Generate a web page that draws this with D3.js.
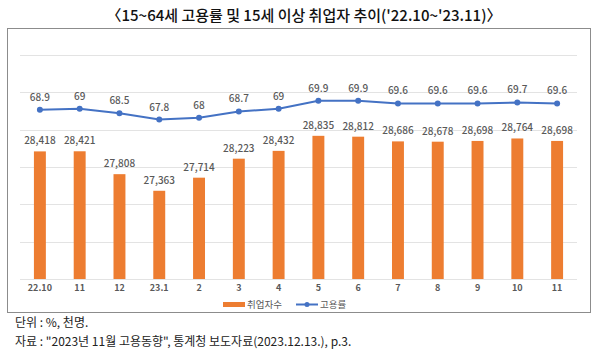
<!DOCTYPE html>
<html><head><meta charset="utf-8">
<script src="https://cdn.jsdelivr.net/npm/d3@7"></script>
<style>body{margin:0;background:#fff}svg{display:block}</style>
</head><body>
<svg id="c" width="600" height="356"></svg>
<script>
const categories = ["22.10","11","12","23.1","2","3","4","5","6","7","8","9","10","11"];
const employed = [28418,28421,27808,27363,27714,28223,28432,28835,28812,28686,28678,28698,28764,28698];
const rate = [68.9,69,68.5,67.8,68,68.7,69,69.9,69.9,69.6,69.6,69.6,69.7,69.6];
const barTicks = [25000,26000,27000,28000,29000,30000,31000];
const title = "〈15~64세 고용률 및 15세 이상 취업자 추이('22.10~'23.11)〉";
const legendNames = ["취업자수","고용률"];
const notes = ["단위 : %, 천명.", "자료 : \"2023년 11월 고용동향\", 통계청 보도자료(2023.12.13.), p.3."];

const FONT = "'Noto Sans CJK KR','Noto Sans',sans-serif";
const svg = d3.select("#c").style("font-family", FONT);
svg.append("rect").attr("width",600).attr("height",356).attr("fill","#fff");

const x = d3.scaleBand().domain(d3.range(categories.length)).range([20,577]).paddingInner(0.7).paddingOuter(0.35);
const yBar = d3.scaleLinear().domain([25000,31000]).range([279,55]);
const yLine = d3.scaleLinear().domain([50,75]).range([279,55]);
const cx = i => x(i) + x.bandwidth()/2;

// title
svg.append("text").attr("x",304).attr("y",21).attr("text-anchor","middle")
  .attr("font-size",15).attr("font-weight",500).attr("fill","#111").text(title);

// frame
svg.append("rect").attr("x",7.5).attr("y",28.5).attr("width",583).attr("height",284)
  .attr("fill","none").attr("stroke","#8c8c8c").attr("stroke-width",1);

// gridlines
svg.append("g").selectAll("line").data(barTicks).join("line")
  .attr("x1",20).attr("x2",577)
  .attr("y1",d=>Math.round(yBar(d))+0.5).attr("y2",d=>Math.round(yBar(d))+0.5)
  .attr("stroke","#e3e3e3").attr("stroke-width",1);

// bars
svg.append("g").selectAll("rect").data(employed).join("rect")
  .attr("x",(d,i)=>x(i)).attr("width",x.bandwidth())
  .attr("y",d=>yBar(d)).attr("height",d=>yBar(25000)-yBar(d))
  .attr("fill","#ED7D31");

// bar labels
svg.append("g").selectAll("text").data(employed).join("text")
  .attr("x",(d,i)=>cx(i)).attr("y",d=>yBar(d)-7).attr("text-anchor","middle")
  .attr("font-size",10).attr("fill","#595959").attr("font-weight",500)
  .text(d=>d3.format(",")(d));

// line
svg.append("path").datum(rate)
  .attr("d", d3.line().x((d,i)=>cx(i)).y(d=>yLine(d)))
  .attr("fill","none").attr("stroke","#4472C4").attr("stroke-width",2);
svg.append("g").selectAll("circle").data(rate).join("circle")
  .attr("cx",(d,i)=>cx(i)).attr("cy",d=>yLine(d)).attr("r",3).attr("fill","#4472C4");
svg.append("g").selectAll("text").data(rate).join("text")
  .attr("x",(d,i)=>cx(i)).attr("y",d=>yLine(d)-9).attr("text-anchor","middle")
  .attr("font-size",10).attr("fill","#595959").attr("font-weight",500)
  .text(d=>d);

// x axis labels
svg.append("g").selectAll("text").data(categories).join("text")
  .attr("x",(d,i)=>cx(i)).attr("y",291).attr("text-anchor","middle")
  .attr("font-size",9).attr("fill","#595959").attr("font-weight",700)
  .text(d=>d);

// legend
const lg = svg.append("g");
lg.append("rect").attr("x",223).attr("y",302).attr("width",22).attr("height",5).attr("fill","#ED7D31");
lg.append("text").attr("x",247).attr("y",308).attr("font-size",9.5).attr("fill","#595959").text(legendNames[0]);
lg.append("line").attr("x1",296).attr("x2",318).attr("y1",304.5).attr("y2",304.5).attr("stroke","#4472C4").attr("stroke-width",2);
lg.append("circle").attr("cx",307).attr("cy",304.5).attr("r",2.5).attr("fill","#4472C4");
lg.append("text").attr("x",320).attr("y",308).attr("font-size",9.5).attr("fill","#595959").text(legendNames[1]);

// notes
svg.append("g").selectAll("text").data(notes).join("text")
  .attr("x",15).attr("y",(d,i)=>326.5+i*19.5)
  .attr("font-size",12).attr("fill","#222").style("white-space","pre").text(d=>d);
</script>
</body></html>
